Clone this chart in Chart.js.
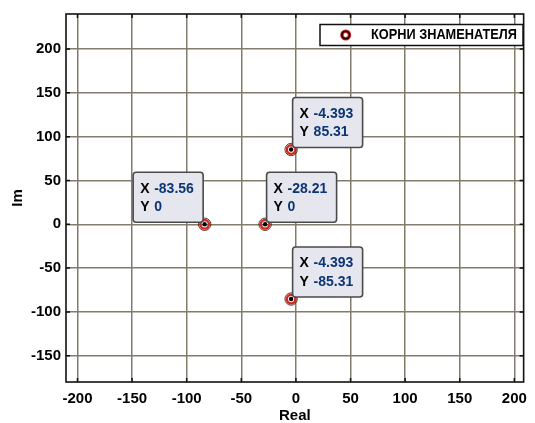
<!DOCTYPE html>
<html><head><meta charset="utf-8">
<script src="https://cdn.jsdelivr.net/npm/chart.js@4"></script>
<style>html,body{margin:0;padding:0;background:#fff}#wrap{width:535px;height:423px;position:relative}</style>
</head><body><div id="wrap"><canvas id="c" width="535" height="423"></canvas></div>
<script>
// ---- data ----
const seriesName = 'КОРНИ ЗНАМЕНАТЕЛЯ';
const realParts = [-83.56, -28.21, -4.393, -4.393];
const imagParts = [0, 0, 85.31, -85.31];
const realLabels = ['-83.56', '-28.21', '-4.393', '-4.393'];
const imagLabels = ['0', '0', '85.31', '-85.31'];
const xTicks = [-200, -150, -100, -50, 0, 50, 100, 150, 200];
const yTicks = [-150, -100, -50, 0, 50, 100, 150, 200];
const xTitle = 'Real';
const yTitle = 'Im';

// ---- styling ----
const FONT = '"Liberation Sans", Arial, Helvetica, sans-serif';
const GRID = '#827c6c';
const tipSides = ['left', 'right', 'right', 'right'];

const points = realParts.map((x, i) => ({x: x, y: imagParts[i]}));

const decorPlugin = {
  id: 'decor',
  afterDatasetsDraw(chart) {
    const ctx = chart.ctx;
    const a = chart.chartArea;
    const xs = chart.scales.x, ys = chart.scales.y;
    ctx.save();
    // inward tick marks
    ctx.strokeStyle = '#111';
    ctx.lineWidth = 1.5;
    const TL = 4;
    xs.ticks.forEach(t => {
      const p = xs.getPixelForValue(t.value);
      ctx.beginPath();
      ctx.moveTo(p, a.bottom); ctx.lineTo(p, a.bottom - TL);
      ctx.moveTo(p, a.top); ctx.lineTo(p, a.top + TL);
      ctx.stroke();
    });
    ys.ticks.forEach(t => {
      const p = ys.getPixelForValue(t.value);
      ctx.beginPath();
      ctx.moveTo(a.left, p); ctx.lineTo(a.left + TL, p);
      ctx.moveTo(a.right, p); ctx.lineTo(a.right - TL, p);
      ctx.stroke();
    });
    // frame
    ctx.strokeStyle = '#111';
    ctx.lineWidth = 1.6;
    ctx.strokeRect(a.left, a.top, a.right - a.left, a.bottom - a.top);

    // marker details (outer dark edge + datatip center dot)
    realParts.forEach((v, i) => {
      const px = xs.getPixelForValue(v), py = ys.getPixelForValue(imagParts[i]);
      ctx.beginPath(); ctx.arc(px, py, 6.2, 0, Math.PI * 2);
      ctx.strokeStyle = 'rgba(60,10,5,0.8)'; ctx.lineWidth = 1; ctx.stroke();
      ctx.beginPath(); ctx.arc(px, py, 2.2, 0, Math.PI * 2);
      ctx.fillStyle = '#000'; ctx.fill();
    });

    // data tips
    const W = 70, H = 50, R = 3;
    realParts.forEach((v, i) => {
      const px = xs.getPixelForValue(v), py = ys.getPixelForValue(imagParts[i]);
      const left = tipSides[i] === 'left' ? px - 1.5 - W : px + 1.5;
      const top = py - 2 - H;
      ctx.beginPath();
      ctx.roundRect(left, top, W, H, R);
      ctx.fillStyle = '#e6e6ef';
      ctx.fill();
      ctx.strokeStyle = '#4a4a4a';
      ctx.lineWidth = 1.6;
      ctx.stroke();
      ctx.font = 'bold 14px ' + FONT;
      ctx.textBaseline = 'middle';
      ctx.textAlign = 'left';
      ctx.fillStyle = '#000';
      ctx.fillText('X', left + 7, top + 16.5);
      ctx.fillText('Y', left + 7, top + 35);
      ctx.fillStyle = '#0b3574';
      ctx.fillText(realLabels[i], left + 21, top + 16.5);
      ctx.fillText(imagLabels[i], left + 21, top + 35);
    });

    // legend
    const lx = 320, ly = 24.5, lw = 203, lh = 21;
    ctx.fillStyle = '#fff';
    ctx.fillRect(lx, ly, lw, lh);
    ctx.strokeStyle = '#111';
    ctx.lineWidth = 1.5;
    ctx.strokeRect(lx, ly, lw, lh);
    ctx.beginPath(); ctx.arc(345.7, 35, 3.8, 0, Math.PI * 2);
    ctx.strokeStyle = '#d0201a'; ctx.lineWidth = 3.4; ctx.stroke();
    ctx.beginPath(); ctx.arc(345.7, 35, 3.8, 0, Math.PI * 2);
    ctx.strokeStyle = '#1a0000'; ctx.lineWidth = 1.6; ctx.stroke();
    ctx.font = 'bold 14px ' + FONT;
    ctx.fillStyle = '#000';
    ctx.textBaseline = 'middle';
    const label = chart.data.datasets[0].label;
    const mw = ctx.measureText(label).width;
    ctx.translate(371, 35.5);
    ctx.scale(146 / mw, 1);
    ctx.fillText(label, 0, 0);
    ctx.restore();
  }
};

new Chart(document.getElementById('c'), {
  type: 'scatter',
  data: {
    datasets: [{
      label: seriesName,
      data: points,
      pointStyle: 'circle',
      pointRadius: 4.3,
      pointHoverRadius: 4.3,
      pointBorderWidth: 2.4,
      borderColor: '#d22a1c',
      backgroundColor: 'rgba(0,0,0,0)',
      showLine: false
    }]
  },
  options: {
    responsive: false,
    animation: false,
    events: [],
    layout: {padding: {top: 14, right: 2, left: 0, bottom: 0}},
    plugins: {legend: {display: false}, tooltip: {enabled: false}},
    scales: {
      x: {
        type: 'linear', min: -210.5, max: 208.5,
        afterBuildTicks: s => { s.ticks = xTicks.map(v => ({value: v})); },
        afterFit: s => { s.height = 41; },
        grid: {color: GRID, lineWidth: 1.5, drawTicks: false},
        border: {display: false},
        ticks: {font: {family: FONT, size: 15, weight: 'bold'}, color: '#000', padding: 8, maxRotation: 0, autoSkip: false},
        title: {display: true, text: xTitle, color: '#000', font: {family: FONT, size: 15, weight: 'bold', lineHeight: 1}, padding: {top: 0, bottom: 0}}
      },
      y: {
        type: 'linear', min: -180, max: 240,
        afterBuildTicks: s => { s.ticks = yTicks.map(v => ({value: v})); },
        afterFit: s => { s.width = 66; },
        grid: {color: GRID, lineWidth: 1.5, drawTicks: false},
        border: {display: false},
        ticks: {font: {family: FONT, size: 15, weight: 'bold'}, color: '#000', padding: 5, autoSkip: false},
        title: {display: true, text: yTitle, color: '#000', font: {family: FONT, size: 15, weight: 'bold', lineHeight: 1}, padding: {top: 10, bottom: 0}}
      }
    }
  },
  plugins: [decorPlugin]
});
</script>
</body></html>
